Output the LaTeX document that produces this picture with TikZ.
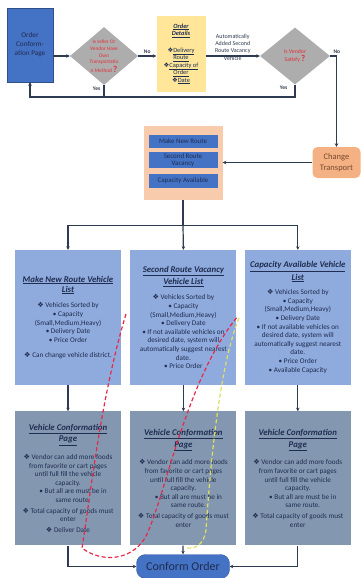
\documentclass[tikz,border=0pt]{standalone}
\usepackage{fontspec}
\setmainfont{Carlito}
\newfontfamily\symfont{DejaVu Sans}
\usetikzlibrary{arrows.meta,positioning,shapes.geometric,calc}
\definecolor{ink}{HTML}{2E3A4F}
\definecolor{navy}{HTML}{1F2D50}
\definecolor{bblue}{HTML}{4472C4}
\definecolor{lblue}{HTML}{8FAADC}
\definecolor{sblue}{HTML}{8497B0}
\definecolor{dgrey}{HTML}{ADADAD}
\definecolor{pyellow}{HTML}{FFE699}
\definecolor{peach}{HTML}{F8CBAD}
\definecolor{orng}{HTML}{F4B183}
\definecolor{rtext}{HTML}{E0303A}
\definecolor{brwn}{HTML}{7A4A2E}
\definecolor{rdash}{HTML}{E8284A}
\definecolor{ydash}{HTML}{E0E060}
\newcommand\dia{{\symfont ❖}}
\newcommand\hd[1]{{\fontsize{8.8}{10}\selectfont\textbf{\textit{\underline{#1}}}}}
\newcommand\qm{{\fontsize{9}{8}\selectfont\bfseries ?}}
\tikzset{
  box/.style={fill=#1, text=navy, align=center, inner sep=1pt},
  flow/.style={-{Stealth[length=3.5pt,width=3.5pt]}, line width=1.2pt, draw=ink},
  wire/.style={line width=1.2pt, draw=ink},
  lbl/.style={font=\fontsize{5.5}{6.5}\selectfont\bfseries, text=ink, inner sep=1.5pt},
  note/.style={font=\fontsize{6}{7.3}\selectfont, text=ink, align=center, inner sep=0pt},
  decision/.style={diamond, fill=dgrey, text=rtext, align=center, inner sep=0pt,
                   aspect=1.2, font=\fontsize{5.3}{6.8}\selectfont},
  inbox/.style={box=bblue, minimum width=69pt, font=\fontsize{6.9}{7.4}\selectfont},
  listbox/.style={box=#1, minimum width=106pt, minimum height=135pt,
                  font=\fontsize{7.2}{8.6}\selectfont},
  scribble/.style={dash pattern=on 4pt off 2.5pt, line width=1.2pt, draw=#1}
}
\begin{document}
\begin{tikzpicture}[x=1pt, y=-1pt]
  \useasboundingbox (0,0) rectangle (360,578);
  \node[box=bblue, draw=bblue!70!black, minimum width=46pt, minimum height=74pt,
        font=\fontsize{7.2}{9}\selectfont] (ordconf) at (30,45)
    {Order\\Conform-\\ation Page};
  \node[decision, minimum width=68pt, minimum height=58pt] (dec1) at (104,56)
    {Is seller Or\\Vendor Have\\Own\\Transportatio\\n Method \qm};
  \node[box=pyellow, minimum width=49pt, minimum height=75pt,
        font=\fontsize{6.4}{7.5}\selectfont] (orddet) at (181,54)
    {\textbf{\textit{\underline{Order}}}\\\textbf{\textit{\underline{Details}}}\\[9pt]
     \dia\underline{Delivery}\\\underline{Route}\\\dia\underline{Capacity of}\\
     \underline{Order}\\\dia\underline{Date}};
  \node[decision, minimum width=70pt, minimum height=57pt,
        font=\fontsize{5.8}{7.5}\selectfont] (dec2) at (295,56)
    {Is Vendor\\Satisfy \qm};
  \node[box=orng, text=brwn, rounded corners=5pt, minimum width=48pt, minimum height=31pt,
        font=\fontsize{8.5}{11}\selectfont] (chg) at (336.5,162.5)
    {Change\\Transport};

  \node[fill=peach, minimum width=79pt, minimum height=74pt, inner sep=0pt] (cont) at (183,163) {};
  \node[inbox, minimum height=13pt] (mnr) at (183,141.5) {Make New Route};
  \node[inbox, minimum height=16pt, below=4pt of mnr] (srv) {Second Route\\Vacancy};
  \node[inbox, minimum height=14pt, below=5pt of srv] (cav) {Capacity Available};

  \node[listbox=lblue] (lst1) at (68,317.5)
    {\hd{Make New Route Vehicle}\\[1.5pt]\hd{List}\\[7pt]
     \dia\ Vehicles Sorted by\\
     • Capacity\\
     (Small,Medium,Heavy)\\
     • Delivery Date\\
     • Price Order\\[7pt]
     \dia\ Can change vehicle district.};
  \node[listbox=lblue, right=9pt of lst1] (lst2)
    {\hd{Second Route Vacancy}\\[1.5pt]\hd{Vehicle List}\\[7pt]
     \dia\ Vehicles Sorted by\\
     • Capacity\\
     (Small,Medium,Heavy)\\
     • Delivery Date\\
     • If not available vehicles on\\
     desired date, system will\\
     automatically suggest nearest\\
     date.\\
     • Price Order};
  \node[listbox=lblue, right=8pt of lst2] (lst3)
    {\hd{Capacity Available Vehicle}\\[1.5pt]\hd{List}\\[6pt]
     \dia\ Vehicles Sorted by\\
     • Capacity\\
     (Small,Medium,Heavy)\\
     • Delivery Date\\
     • If not available vehicles on\\
     desired date, system will\\
     automatically suggest nearest\\
     date.\\
     • Price Order\\
     • Available Capacity};

  \node[listbox=sblue, minimum height=134pt, below=26pt of lst1] (cnf1)
    {\hd{Vehicle Conformation}\\[1.5pt]\hd{Page}\\[8pt]
     \dia\ Vendor can add more foods\\
     from favorite or cart pages\\
     until full fill the vehicle\\
     capacity.\\
     \hspace*{10pt}• But all are must be in\\
     \hspace*{10pt}same route.\\[2pt]
     \dia\ Total capacity of goods must\\
     enter\\[2pt]
     \dia\ Deliver Date};
  \node[listbox=sblue, minimum height=134pt, below=26pt of lst2] (cnf2)
    {\hd{Vehicle Conformation}\\[1.5pt]\hd{Page}\\[8pt]
     \dia\ Vendor can add more foods\\
     from favorite or cart pages\\
     until full fill the vehicle\\
     capacity.\\
     \hspace*{10pt}• But all are must be in\\
     \hspace*{10pt}same route.\\[2pt]
     \dia\ Total capacity of goods must\\
     enter};
  \node[listbox=sblue, minimum height=134pt, below=26pt of lst3] (cnf3)
    {\hd{Vehicle Conformation}\\[1.5pt]\hd{Page}\\[8pt]
     \dia\ Vendor can add more foods\\
     from favorite or cart pages\\
     until full fill the vehicle\\
     capacity.\\
     \hspace*{10pt}• But all are must be in\\
     \hspace*{10pt}same route.\\[2pt]
     \dia\ Total capacity of goods must\\
     enter};

  \node[box=bblue, draw=bblue!80!black, rounded corners=9pt, minimum width=93pt,
        minimum height=24pt, font=\fontsize{12}{13}\selectfont] (conf) at (183,566.5)
    {Conform Order};

  \draw[flow] (ordconf.east |- dec1.west) -- (dec1.west);
  \draw[flow] (dec1.east) -- node[above, lbl]{No} (dec1.east -| orddet.west);
  \draw[flow] (orddet.east |- dec2.west) -- (dec2.west)
      node[midway, note, yshift=9pt]{Automatically\\Added Second\\Route Vacancy\\Vehicle};
  \draw[flow] (dec2.east) -| (chg.north) node[pos=0.1, above right, lbl]{No};
  \coordinate (ret) at (ordconf.south |- 0,97);
  \draw[flow] (dec2.south) |- (ret) -- (ordconf.south);
  \node[lbl, anchor=east] at ($(dec2.south)+(-6,3)$) {Yes};
  \draw[wire] (dec1.south) -- (dec1.south |- ret);
  \node[lbl, anchor=east] at ($(dec1.south)+(-2,4)$) {Yes};
  \draw[flow] (chg.west) -- (chg.west -| cont.east);

  \draw[wire] (cont.south) -- ++(0,25) coordinate (split);
  \draw[flow] (split) -- (lst2.north);
  \draw[flow] (split) -| (lst1.north);
  \draw[flow] (split) -| (lst3.north);
  \foreach \i in {1,2,3}
    \draw[flow] (lst\i) -- (cnf\i);
  \draw[flow] (cnf1.south) |- (conf.west);
  \draw[flow] (cnf3.south) |- (conf.east);
  \draw[flow] (cnf2) -- (conf);

  \coordinate (rs) at (126,314);
  \coordinate (re) at (238,316);
  \coordinate (ys) at (239,318);
  \coordinate (ye) at (186,548);
  \draw[scribble=rdash] (rs) .. controls (100,400) and (90,500) .. (82,548)
      .. controls (100,562) and (130,562) .. (145,538)
      .. controls (165,500) and (185,380) .. (re);
  \draw[scribble=ydash] (ys) .. controls (222,360) and (212,440) .. (206,530)
      .. controls (204,545) and (195,549) .. (ye);
\end{tikzpicture}
\end{document}
